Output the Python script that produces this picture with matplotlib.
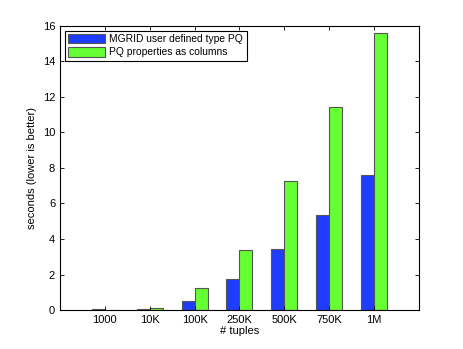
import matplotlib
matplotlib.use("Agg")
import matplotlib.pyplot as plt
import numpy as np

plt.rcParams['font.family'] = ['Liberation Sans', 'DejaVu Sans']

labels = ['1000', '10K', '100K', '250K', '500K', '750K', '1M']
mgrid = [0.03, 0.05, 0.53, 1.75, 3.45, 5.35, 7.62]
pq_cols = [0.02, 0.1, 1.22, 3.38, 7.25, 11.42, 15.62]

x = np.arange(1, len(labels) + 1)
w = 0.29

fig = plt.figure(figsize=(4.63, 3.49), dpi=100)
ax = fig.add_axes([0.1296, 0.1117, 0.775, 0.814])

ax.bar(x - w / 2, mgrid, w, color='#1f3dff', edgecolor='#555555', linewidth=0.8,
       label='MGRID user defined type PQ')
ax.bar(x + w / 2, pq_cols, w, color='#66ff33', edgecolor='#555555', linewidth=0.8,
       label='PQ properties as columns')

ax.set_xlim(0, 8)
ax.set_ylim(0, 16)
ax.set_xticks(x)
ax.set_xticklabels(labels)
ax.set_yticks(range(0, 17, 2))
ax.tick_params(direction='in', top=True, right=True, labelsize=8, length=3, width=0.6)
for s in ax.spines.values():
    s.set_linewidth(0.8)
ax.set_xlabel('# tuples', fontsize=8, labelpad=1)
ax.set_ylabel('seconds (lower is better)', fontsize=8)

leg = ax.legend(loc='upper left', fontsize=7.4, fancybox=False, edgecolor='black',
                framealpha=1, borderpad=0.35, handlelength=3.6, handleheight=1.0,
                labelspacing=0.3, borderaxespad=0.45, handletextpad=0.4)
leg.get_frame().set_linewidth(0.8)

fig.savefig('out.png', dpi=100)
